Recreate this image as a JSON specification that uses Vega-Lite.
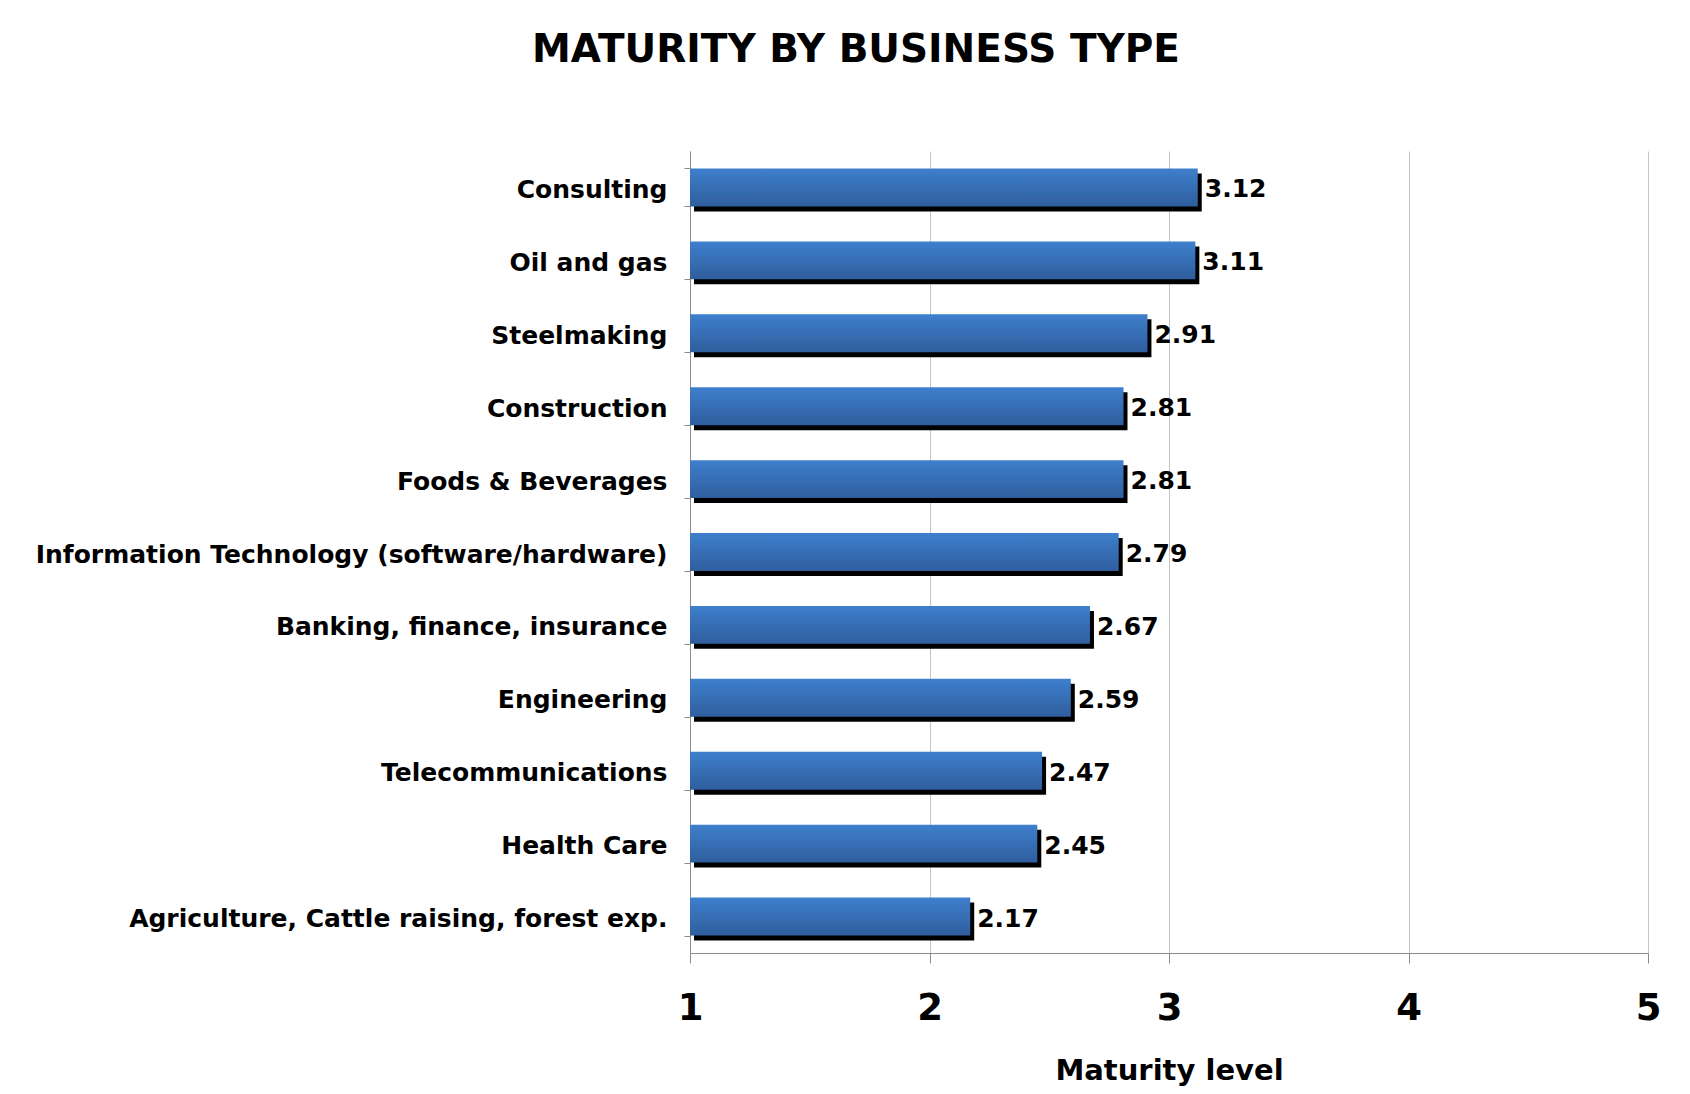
{
  "$schema": "https://vega.github.io/schema/vega-lite/v6.json",
  "autosize": "none",
  "width": 958,
  "height": 802,
  "padding": {"left": 690, "top": 151, "right": 42, "bottom": 141},
  "background": "white",
  "config": {"view": {"stroke": null}},
  "title": {
    "text": "MATURITY BY BUSINESS TYPE",
    "font": "DejaVu Sans",
    "fontSize": 39,
    "fontWeight": "bold",
    "color": "black",
    "anchor": "middle",
    "frame": "group",
    "dx": -313,
    "offset": 69
  },
  "data": {
    "values": [
      {"business": "Consulting", "maturity": 3.12},
      {"business": "Oil and gas", "maturity": 3.11},
      {"business": "Steelmaking", "maturity": 2.91},
      {"business": "Construction", "maturity": 2.81},
      {"business": "Foods & Beverages", "maturity": 2.81},
      {"business": "Information Technology (software/hardware)", "maturity": 2.79},
      {"business": "Banking, finance, insurance", "maturity": 2.67},
      {"business": "Engineering", "maturity": 2.59},
      {"business": "Telecommunications ", "maturity": 2.47},
      {"business": "Health Care", "maturity": 2.45},
      {"business": "Agriculture, Cattle raising, forest exp.", "maturity": 2.17}
    ]
  },
  "encoding": {
    "y": {
      "field": "business",
      "type": "nominal",
      "sort": null,
      "scale": {"paddingInner": 0.48, "paddingOuter": 0.24},
      "axis": {
        "title": null,
        "tickBand": "extent",
        "tickSize": 6,
        "tickColor": "#8c8c8c",
        "domainColor": "#8c8c8c",
        "labelFont": "DejaVu Sans",
        "labelFontSize": 25,
        "labelFontWeight": "bold",
        "labelColor": "black",
        "labelPadding": 17,
        "labelOffset": 2,
        "labelLimit": 800
      }
    },
    "x": {
      "field": "maturity",
      "type": "quantitative",
      "scale": {"domain": [1, 5], "nice": false, "zero": false},
      "axis": {
        "title": "Maturity level",
        "values": [1, 2, 3, 4, 5],
        "format": "d",
        "grid": true,
        "gridColor": "#c4c4c4",
        "gridWidth": 1,
        "tickSize": 10,
        "tickColor": "#8c8c8c",
        "domainColor": "#8c8c8c",
        "labelFont": "DejaVu Sans",
        "labelFontSize": 37,
        "labelFontWeight": "bold",
        "labelColor": "black",
        "labelPadding": 27,
        "labelFlush": false,
        "titleFont": "DejaVu Sans",
        "titleFontSize": 29,
        "titleFontWeight": "bold",
        "titleColor": "black",
        "titlePadding": 30
      }
    }
  },
  "layer": [
    {
      "mark": {"type": "bar", "color": "black", "xOffset": 4, "yOffset": 5, "x2Offset": 4},
      "encoding": {"x2": {"datum": 1}}
    },
    {
      "mark": {
        "type": "bar",
        "color": {
          "gradient": "linear",
          "x1": 0, "y1": 0, "x2": 0, "y2": 1,
          "stops": [
            {"offset": 0, "color": "#3e7fcd"},
            {"offset": 1, "color": "#2f5e9d"}
          ]
        }
      },
      "encoding": {"x2": {"datum": 1}}
    },
    {
      "mark": {
        "type": "text",
        "align": "left",
        "baseline": "middle",
        "dx": 7,
        "dy": 2,
        "font": "DejaVu Sans",
        "fontSize": 25,
        "fontWeight": "bold",
        "color": "black"
      },
      "encoding": {"text": {"field": "maturity", "type": "quantitative", "format": ".2f"}}
    }
  ]
}
